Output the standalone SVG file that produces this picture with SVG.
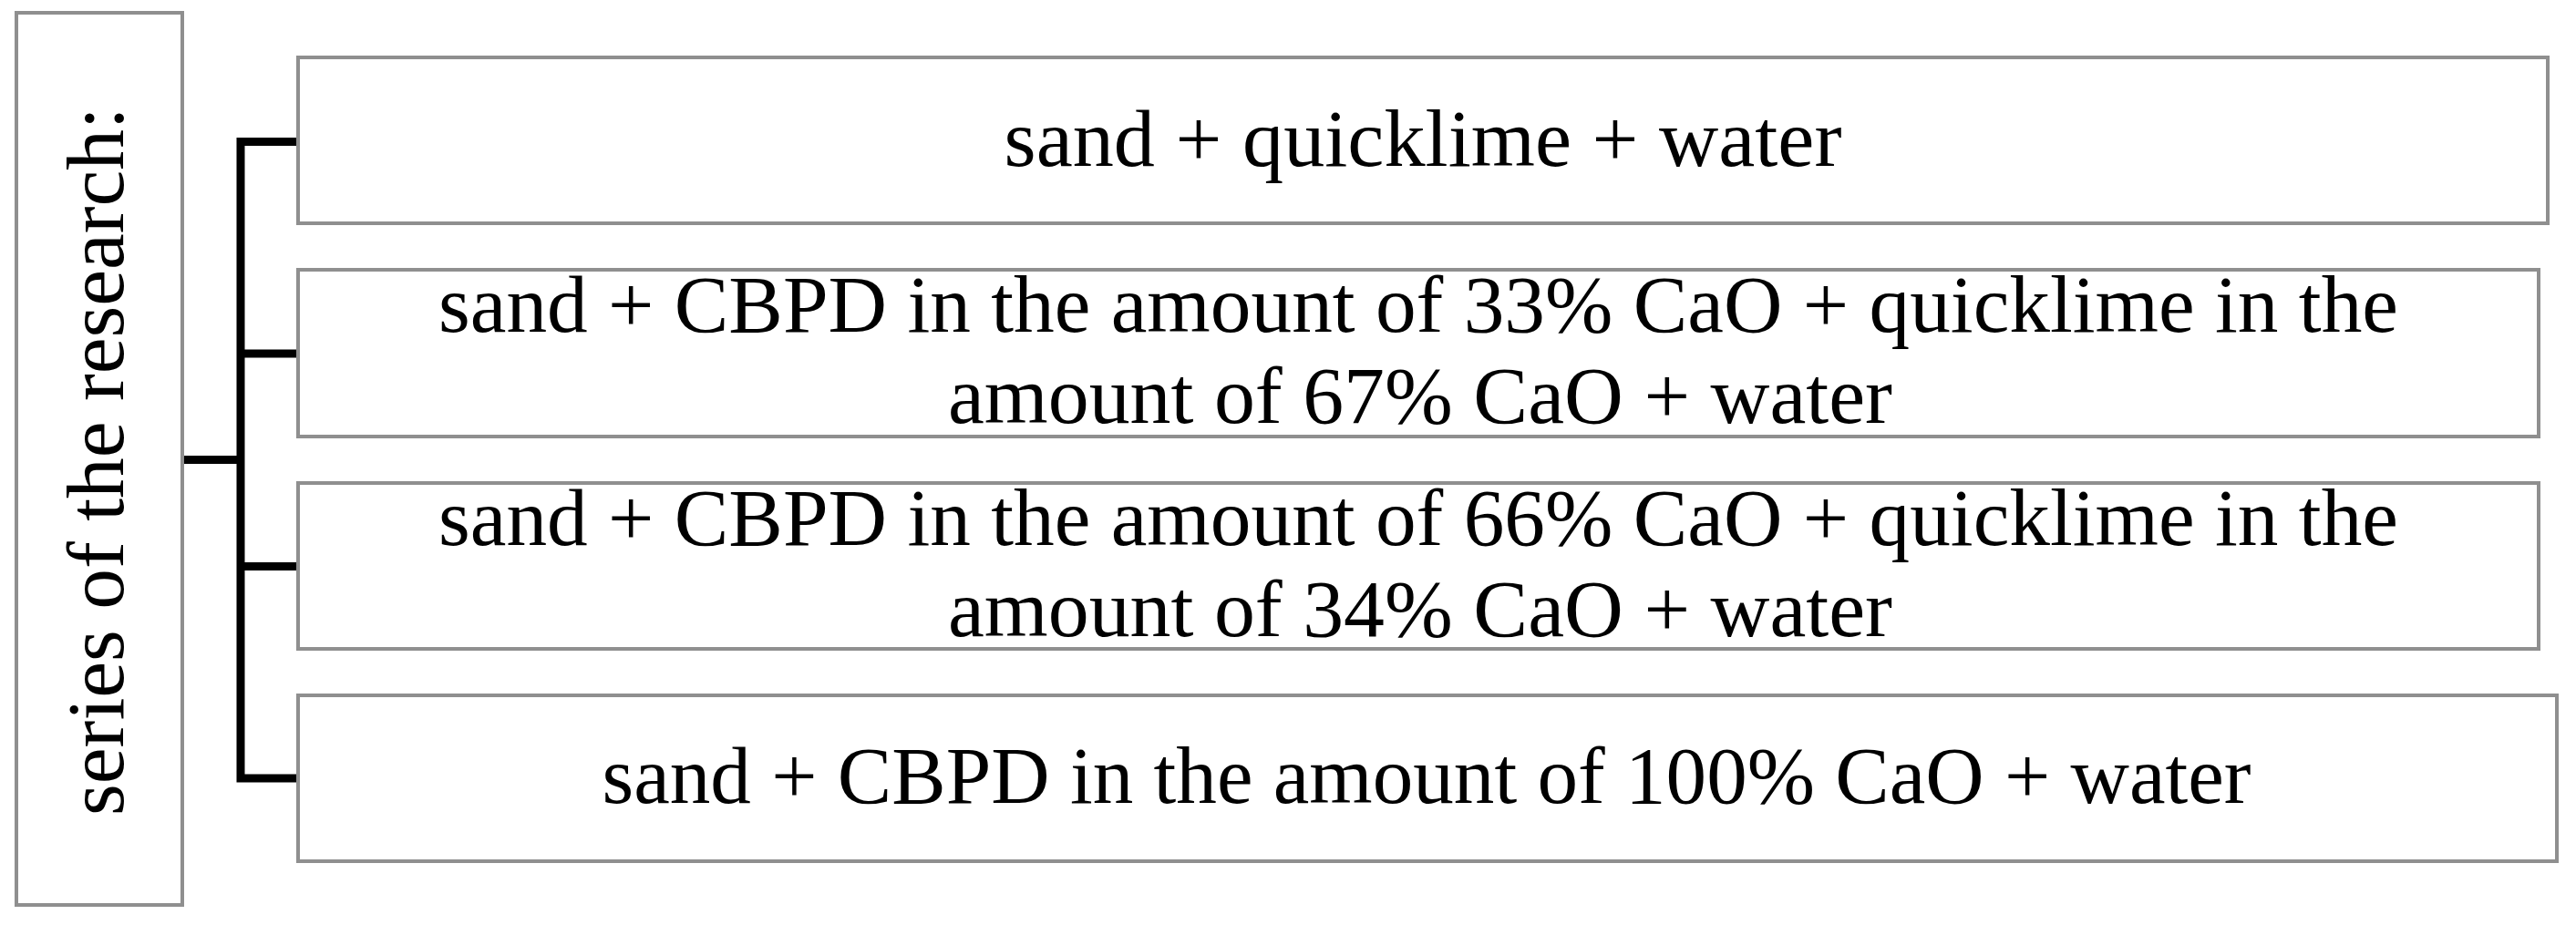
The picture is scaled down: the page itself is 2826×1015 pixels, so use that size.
<svg xmlns="http://www.w3.org/2000/svg" width="2826" height="1015" viewBox="0 0 2826 1015">
<style>
.box{fill:#ffffff;stroke:#8f8f8f;stroke-width:4}
.t{font-family:"Liberation Serif","Times New Roman",serif;font-size:88px;fill:#000;text-anchor:middle}
.bus{fill:none;stroke:#000;stroke-width:9;stroke-linejoin:miter;stroke-linecap:butt}
</style>
<rect width="2826" height="1015" fill="#ffffff"/>
<g id="connectors">
<path class="bus" d="M325,155.5 H264 V854 H325"/>
<path class="bus" d="M264,388 H325"/>
<path class="bus" d="M264,621.5 H325"/>
<path class="bus" d="M202,504.5 H264"/>
</g>
<g id="root">
<rect class="box" x="18" y="14" width="182" height="979"/>
<text class="t" x="135" y="506" transform="rotate(-90 135 506)" textLength="778" lengthAdjust="spacingAndGlyphs">series of the research:</text>
</g>
<g id="series1">
<rect class="box" x="327" y="63" width="2468" height="182"/>
<text class="t" x="1561" y="182" textLength="919" lengthAdjust="spacingAndGlyphs">sand + quicklime + water</text>
</g>
<g id="series2">
<rect class="box" x="327" y="296" width="2458" height="183"/>
<text class="t" x="1556" y="364" textLength="2150" lengthAdjust="spacingAndGlyphs">sand + CBPD in the amount of 33% CaO + quicklime in the</text>
<text class="t" x="1558" y="464" textLength="1036" lengthAdjust="spacingAndGlyphs">amount of 67% CaO + water</text>
</g>
<g id="series3">
<rect class="box" x="327" y="530" width="2458" height="182"/>
<text class="t" x="1556" y="598" textLength="2150" lengthAdjust="spacingAndGlyphs">sand + CBPD in the amount of 66% CaO + quicklime in the</text>
<text class="t" x="1558" y="698" textLength="1036" lengthAdjust="spacingAndGlyphs">amount of 34% CaO + water</text>
</g>
<g id="series4">
<rect class="box" x="327" y="763" width="2478" height="182"/>
<text class="t" x="1565" y="881" textLength="1809" lengthAdjust="spacingAndGlyphs">sand + CBPD in the amount of 100% CaO + water</text>
</g>
</svg>
